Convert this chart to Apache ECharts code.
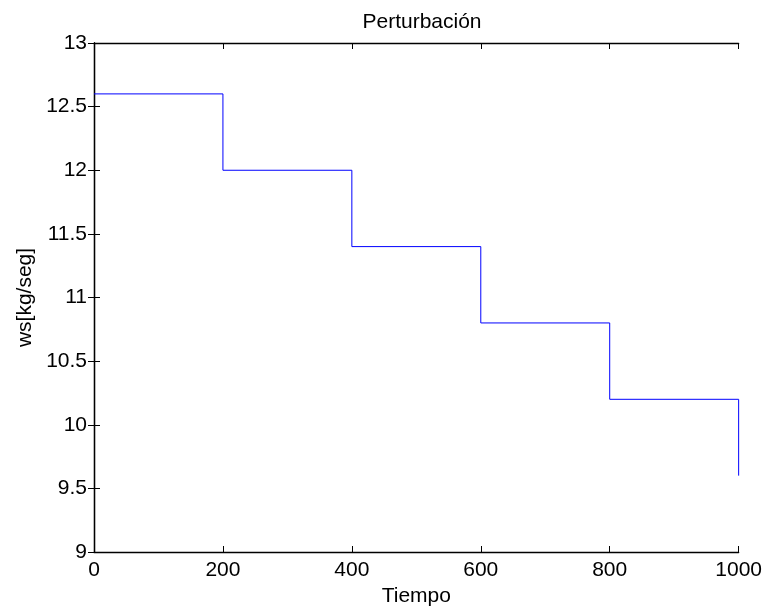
<!DOCTYPE html>
<html>
<head>
<meta charset="utf-8">
<script src="https://cdn.jsdelivr.net/npm/echarts@6/dist/echarts.min.js"></script>
<style>
  html, body { margin: 0; padding: 0; background: #fff; }
  #chart { width: 765px; height: 612px; }
</style>
</head>
<body>
<div id="chart"></div>
<script>
// Step disturbance: ws drops every 200 time units
const tiempo = [0, 200, 400, 600, 800, 1000];
const ws = [12.6, 12.0, 11.4, 10.8, 10.2, 9.6];

const titleText = 'Perturbación';
const xName = 'Tiempo';
const yName = 'ws[kg/seg]';

const FONT = 'Arial, "Liberation Sans", Helvetica, sans-serif';
const FS = 21;

const chart = echarts.init(document.getElementById('chart'), null, { renderer: 'canvas' });

const boxAxis = {
  axisLine: { show: true, lineStyle: { color: '#000', width: 1.3 } },
  axisTick: { show: true, inside: true, length: 6, lineStyle: { color: '#000', width: 1 } },
  splitLine: { show: false }
};

chart.setOption({
  animation: false,
  backgroundColor: '#fff',
  title: {
    text: titleText,
    left: 417,
    textAlign: 'center',
    top: 7,
    textStyle: { fontFamily: FONT, fontSize: FS, fontWeight: 'normal', color: '#000' }
  },
  grid: { left: 94, right: 25, top: 43, bottom: 60, containLabel: false },
  xAxis: [
    Object.assign({
      type: 'value', position: 'bottom', min: 0, max: 1000, interval: 200,
      name: xName, nameLocation: 'middle', nameGap: 34,
      nameTextStyle: { fontFamily: FONT, fontSize: FS, color: '#000' },
      axisLabel: { fontFamily: FONT, fontSize: FS, color: '#000', margin: 8,
        formatter: v => String(v) }
    }, boxAxis),
    Object.assign({
      type: 'value', position: 'top', min: 0, max: 1000, interval: 200,
      axisLabel: { show: false }
    }, boxAxis)
  ],
  yAxis: [
    Object.assign({
      type: 'value', position: 'left', min: 9, max: 13, interval: 0.5,
      name: yName, nameLocation: 'middle', nameGap: 56, nameRotate: 90,
      nameTextStyle: { fontFamily: FONT, fontSize: FS, color: '#000' },
      axisLabel: { fontFamily: FONT, fontSize: FS, color: '#000', margin: 7,
        formatter: v => String(v) }
    }, boxAxis),
    Object.assign({
      type: 'value', position: 'right', min: 9, max: 13, interval: 0.5,
      axisLabel: { show: false }
    }, boxAxis)
  ],
  series: [{
    type: 'line',
    step: 'end',
    xAxisIndex: 0,
    yAxisIndex: 0,
    data: tiempo.map((t, i) => [t, ws[i]]),
    showSymbol: false,
    lineStyle: { color: '#0000ff', width: 1 },
    itemStyle: { color: '#0000ff' }
  }]
});
</script>
</body>
</html>
